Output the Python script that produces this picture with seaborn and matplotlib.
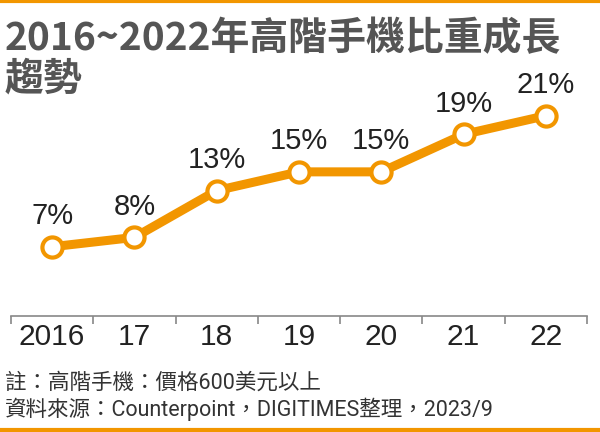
import numpy as np
import pandas as pd
import matplotlib.pyplot as plt
import seaborn as sns

# data
years = ["2016", "17", "18", "19", "20", "21", "22"]
share = [7, 8, 13, 15, 15, 19, 21]

title_lines = ["2016~2022年高階手機比重成長", "趨勢"]
note1 = "註：高階手機：價格600美元以上"
note2 = "資料來源：Counterpoint，DIGITIMES整理，2023/9"

orange = "#F29600"

sns.set_theme(style="white")
plt.rcParams['font.family'] = ['Liberation Sans', 'Noto Sans CJK TC', 'DejaVu Sans']

df = pd.DataFrame({"x": np.arange(len(years)), "share": share})

fig = plt.figure(figsize=(6, 4.32), dpi=100)
ax = fig.add_axes([0.0183, 0.2685, 0.96, 0.507])

sns.lineplot(data=df, x="x", y="share", ax=ax, color=orange, linewidth=6.5,
             marker="o", markersize=14.5, markerfacecolor="white",
             markeredgecolor=orange, markeredgewidth=3)

for i, v in enumerate(share):
    ax.annotate(f"{v}%", (i, v), xytext=(0, 22), textcoords="offset points",
                ha="center", va="center", fontsize=21, color="#222222")

ax.set_xlim(-0.5, len(years) - 0.5)
ax.set_ylim(-0.4, 23)
ax.set_xticks(np.arange(len(years)))
ax.set_xticklabels(years, fontsize=21.5, color="#222222")
ax.set_xticks(np.arange(len(years) + 1) - 0.5, minor=True)
ax.tick_params(axis="x", which="major", length=0, pad=5)
ax.tick_params(axis="x", which="minor", length=6, width=1.2, color="#888888",
               direction="out", bottom=True)
ax.set_yticks([])
ax.set_xlabel("")
ax.set_ylabel("")
for s in ["top", "left", "right"]:
    ax.spines[s].set_visible(False)
ax.spines["bottom"].set_color("#888888")
ax.spines["bottom"].set_linewidth(1.2)

# title
cjk = ['Noto Sans CJK TC', 'DejaVu Sans']
fig.text(0.008, 1 - 38 / 432, title_lines[0], fontsize=28, fontweight="bold",
         color="#555555", family=cjk, va="center", ha="left")
fig.text(0.008, 1 - 79 / 432, title_lines[1], fontsize=28, fontweight="bold",
         color="#555555", family=cjk, va="center", ha="left")

# footnotes
foot = ['Roboto', 'Noto Sans CJK TC', 'DejaVu Sans']
fig.text(0.008, 1 - 383 / 432, note1, fontsize=15.5, color="#333333",
         family=foot, va="center", ha="left")
fig.text(0.008, 1 - 409 / 432, note2, fontsize=15.5, color="#333333",
         family=foot, va="center", ha="left")

# orange rules at top and bottom
fig.add_artist(plt.Line2D([0, 1], [0.997, 0.997], color=orange, linewidth=3,
                          transform=fig.transFigure))
fig.add_artist(plt.Line2D([0, 1], [0.005, 0.005], color=orange, linewidth=3,
                          transform=fig.transFigure))

fig.savefig("out.png", dpi=100)
